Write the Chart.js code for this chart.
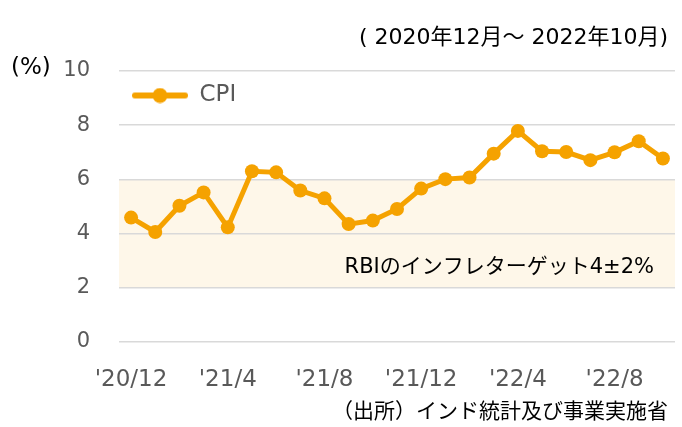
<!DOCTYPE html>
<html>
<head>
<meta charset="utf-8">
<script src="https://cdn.jsdelivr.net/npm/chart.js@4.4.1/dist/chart.umd.min.js"></script>
<style>
  body { margin: 0; background: #fff; }
  #wrap { width: 682px; height: 427px; }
</style>
</head>
<body>
<div id="wrap"><canvas id="myChart" width="682" height="427"></canvas></div>
<script>
const months = ["'20/12", "'21/1", "'21/2", "'21/3", "'21/4", "'21/5", "'21/6", "'21/7", "'21/8", "'21/9", "'21/10", "'21/11",
                "'21/12", "'22/1", "'22/2", "'22/3", "'22/4", "'22/5", "'22/6", "'22/7", "'22/8", "'22/9", "'22/10"];
const cpi = [4.59, 4.06, 5.03, 5.52, 4.23, 6.30, 6.26, 5.59, 5.30, 4.35, 4.48, 4.91,
             5.66, 6.01, 6.07, 6.95, 7.79, 7.04, 7.01, 6.71, 7.00, 7.41, 6.77];
const targetBand = [2, 6];
const yTicks = [0, 2, 4, 6, 8, 10];

const FONT = "'DejaVu Sans', 'Noto Sans CJK JP', sans-serif";
const ORANGE = '#F5A200';

// legend symbol: line with a dot
const legendIcon = document.createElement('canvas');
legendIcon.width = 56;
legendIcon.height = 16;
{
    const c = legendIcon.getContext('2d');
    c.strokeStyle = ORANGE;
    c.lineWidth = 6;
    c.lineCap = 'round';
    c.beginPath();
    c.moveTo(3, 8);
    c.lineTo(53, 8);
    c.stroke();
    c.fillStyle = ORANGE;
    c.beginPath();
    c.arc(28, 8, 7.5, 0, Math.PI * 2);
    c.fill();
}

const extras = {
    id: 'extras',
    afterLayout(chart) {
        // keep the legend inside the plot, top-left
        chart.legend.top = chart.chartArea.top;
    },
    beforeDraw(chart) {
        const { ctx, chartArea, scales } = chart;
        const yTop = scales.y.getPixelForValue(targetBand[1]);
        const yBot = scales.y.getPixelForValue(targetBand[0]);
        ctx.save();
        ctx.fillStyle = '#FEF7E9';
        ctx.fillRect(chartArea.left, yTop, chartArea.right - chartArea.left, yBot - yTop);
        ctx.restore();
    },
    afterDraw(chart) {
        const { ctx, chartArea, scales } = chart;
        ctx.save();
        ctx.fillStyle = '#000';
        ctx.textBaseline = 'middle';
        ctx.textAlign = 'right';
        ctx.font = '22px ' + FONT;
        ctx.fillText('( 2020年12月～ 2022年10月)', 668, 38);
        ctx.font = '21px ' + FONT;
        ctx.fillText('（出所）インド統計及び事業実施省', 668, 413);
        ctx.fillText('RBIのインフレターゲット4±2%', chartArea.right - 21, scales.y.getPixelForValue(2.75));
        ctx.textAlign = 'left';
        ctx.font = '23px ' + FONT;
        ctx.fillText('(%)', 11, 68);
        ctx.restore();
    }
};

new Chart(document.getElementById('myChart').getContext('2d'), {
    type: 'line',
    data: {
        labels: months,
        datasets: [{
            label: 'CPI',
            data: cpi,
            borderColor: ORANGE,
            backgroundColor: ORANGE,
            borderWidth: 5,
            pointRadius: 7,
            pointHoverRadius: 7,
            pointBorderWidth: 0,
            tension: 0
        }]
    },
    options: {
        responsive: false,
        animation: false,
        events: [],
        layout: { padding: { top: 71, right: -4, left: 0, bottom: 0 } },
        plugins: {
            tooltip: { enabled: false },
            legend: {
                position: 'chartArea',
                align: 'start',
                labels: {
                    usePointStyle: true,
                    pointStyle: legendIcon,
                    pointStyleWidth: 56,
                    boxHeight: 16,
                    padding: 13,
                    color: '#595959',
                    font: { family: FONT, size: 23 }
                }
            }
        },
        scales: {
            x: {
                offset: true,
                grid: { display: false, drawTicks: false },
                border: { display: false },
                ticks: {
                    autoSkip: false,
                    maxRotation: 0,
                    padding: 24,
                    color: '#595959',
                    font: { family: FONT, size: 23 },
                    callback: function (v, i) { return i % 4 === 0 ? months[i] : ''; }
                },
                afterFit: s => { s.height = 85; s.paddingLeft = 0; s.paddingRight = 0; }
            },
            y: {
                min: 0,
                max: 10,
                afterBuildTicks: s => { s.ticks = yTicks.map(v => ({ value: v })); },
                grid: { color: '#D9D9D9', lineWidth: 1.5, drawTicks: false },
                border: { display: false },
                ticks: {
                    padding: 29,
                    color: '#595959',
                    font: { family: FONT, size: 21 }
                },
                afterFit: s => { s.width = 119; }
            }
        }
    },
    plugins: [extras]
});
</script>
</body>
</html>
